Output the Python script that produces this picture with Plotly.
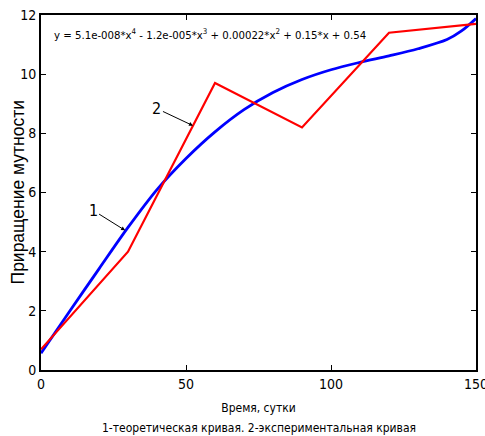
import plotly.graph_objects as go

# Experimental data (curve 2)
exp_days = [0, 30, 60, 90, 120, 150]
exp_vals = [0.7, 4.0, 9.7, 8.2, 11.4, 11.7]

# Theoretical (fitted) curve 1
fit_days = [0, 10, 20, 30, 40, 50, 60, 70, 80, 90, 100, 110, 120, 130, 140, 145, 150]
fit_vals = [0.57, 2.0, 3.42, 4.82, 6.10, 7.15, 8.05, 8.80, 9.38, 9.82, 10.15, 10.40, 10.62, 10.86, 11.17, 11.46, 11.88]

x_ticks = [0, 50, 100, 150]
y_ticks = [0, 2, 4, 6, 8, 10, 12]

NARROW = "DejaVu Sans Condensed"
REG = "Liberation Sans, Arial, sans-serif"

fig = go.Figure()
fig.add_trace(go.Scatter(x=fit_days, y=fit_vals, mode="lines",
                         line=dict(color="#0000ff", width=2.8, shape="spline", smoothing=0.9),
                         showlegend=False))
fig.add_trace(go.Scatter(x=exp_days, y=exp_vals, mode="lines",
                         line=dict(color="#ff0000", width=2.2),
                         showlegend=False))

fig.update_layout(
    width=485, height=436,
    margin=dict(l=41, r=9, t=15, b=66),
    plot_bgcolor="white", paper_bgcolor="white",
    font=dict(family=NARROW, size=14, color="black"),
    xaxis=dict(range=[0, 150], tickvals=x_ticks, ticks="inside", ticklen=5, tickcolor="black",
               showline=True, linecolor="black", linewidth=2, mirror="ticks",
               showgrid=False, zeroline=False, tickfont=dict(size=14, family=NARROW),
               ticklabeloverflow="allow", automargin=False,
               title=dict(text="Время, сутки", font=dict(size=12, family=NARROW), standoff=13)),
    yaxis=dict(range=[0, 12], tickvals=y_ticks, ticks="inside", ticklen=5, tickcolor="black",
               showline=True, linecolor="black", linewidth=2, mirror="ticks",
               showgrid=False, zeroline=False, tickfont=dict(size=14, family=NARROW),
               automargin=False),
    annotations=[
        dict(x=-0.053, y=0.5, xref="paper", yref="paper", xanchor="center", yanchor="middle",
             showarrow=False, textangle=-90, font=dict(size=17.5, family=REG),
             text="Приращение мутности"),
        dict(x=0.025, y=0.945, xref="paper", yref="paper", xanchor="left", yanchor="middle",
             showarrow=False, font=dict(size=11.3, family=NARROW),
             text="y = 5.1e-008*x<sup>4</sup> - 1.2e-005*x<sup>3</sup> + 0.00022*x<sup>2</sup> + 0.15*x + 0.54"),
        dict(x=0.5, y=-0.162, xref="paper", yref="paper", xanchor="center", yanchor="middle",
             showarrow=False, font=dict(size=12, family=NARROW),
             text="1-теоретическая кривая. 2-экспериментальная кривая"),
        dict(x=29, y=4.72, xref="x", yref="y", text="1", showarrow=True, arrowhead=2,
             arrowsize=0.8, arrowwidth=1, arrowcolor="black", ax=-32, ay=-20,
             font=dict(size=16, family=NARROW)),
        dict(x=52.4, y=8.26, xref="x", yref="y", text="2", showarrow=True, arrowhead=2,
             arrowsize=0.8, arrowwidth=1, arrowcolor="black", ax=-36, ay=-17,
             font=dict(size=16, family=NARROW)),
    ],
)

fig.write_html("out.html")
